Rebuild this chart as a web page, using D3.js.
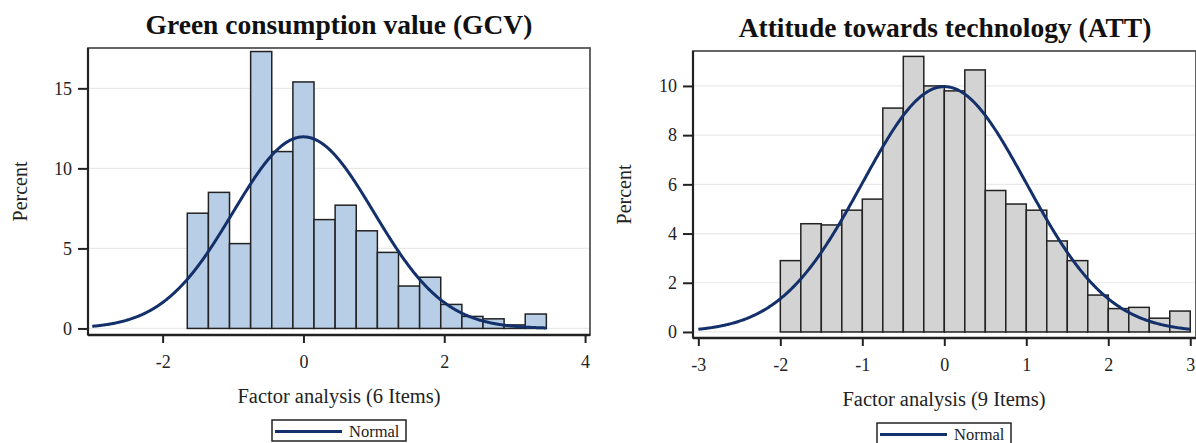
<!DOCTYPE html>
<html>
<head>
<meta charset="utf-8">
<script src="https://cdn.jsdelivr.net/npm/d3@7"></script>
<style>
  body { margin: 0; background: #fff; }
  svg { display: block; }
</style>
</head>
<body>
<div id="chart"></div>
<script>
// GCV histogram (bin midpoints, percent)
const gcvMid = [-1.5, -1.2, -0.9, -0.6, -0.3, 0, 0.3, 0.6, 0.9, 1.2, 1.5, 1.8, 2.1, 2.4, 2.7, 3.0, 3.3];
const gcvPct = [7.2, 8.5, 5.3, 17.3, 11.05, 15.4, 6.8, 7.7, 6.1, 4.75, 2.65, 3.2, 1.5, 0.75, 0.6, 0.22, 0.9];
const gcvBinWidth = 0.3;
const gcvNormal = { mean: 0, sd: 1, from: -3, to: 3.45 };
const gcvYTicks = [0, 5, 10, 15];
const gcvXTicks = [-2, 0, 2, 4];

// ATT histogram
const attMid = [-1.875, -1.625, -1.375, -1.125, -0.875, -0.625, -0.375, -0.125, 0.125, 0.375,
                0.625, 0.875, 1.125, 1.375, 1.625, 1.875, 2.125, 2.375, 2.625, 2.875];
const attPct = [2.9, 4.4, 4.35, 4.95, 5.4, 9.1, 11.2, 10.0, 9.8, 10.65,
                5.75, 5.2, 4.95, 3.7, 2.9, 1.5, 0.95, 1.0, 0.56, 0.85];
const attBinWidth = 0.25;
const attNormal = { mean: 0, sd: 1, from: -3, to: 3 };
const attYTicks = [0, 2, 4, 6, 8, 10];
const attXTicks = [-3, -2, -1, 0, 1, 2, 3];

const W = 1196, H = 443;
const serif = "'Liberation Serif', 'Times New Roman', serif";

const svg = d3.select("#chart").append("svg")
  .attr("width", W).attr("height", H);

// plain hyphen for negatives, like the original
const fmt = d => String(d);

function panel(opt) {
  const g = svg.append("g");
  const x = d3.scaleLinear().domain(opt.xDomain).range([opt.left, opt.right]);
  const y = d3.scaleLinear().domain(opt.yDomain).range([opt.bottom, opt.top]);

  // grid
  g.selectAll("line.grid")
    .data(opt.yTicks)
    .join("line")
    .attr("class", "grid")
    .attr("x1", opt.left).attr("x2", opt.right)
    .attr("y1", d => y(d)).attr("y2", d => y(d))
    .attr("stroke", "#e9e9e9").attr("stroke-width", 1.2);

  // bars
  g.selectAll("rect.bar")
    .data(opt.mid.map((m, i) => ({ m: m, p: opt.pct[i] })))
    .join("rect")
    .attr("class", "bar")
    .attr("x", d => x(d.m - opt.binW / 2))
    .attr("width", d => x(d.m + opt.binW / 2) - x(d.m - opt.binW / 2))
    .attr("y", d => y(d.p))
    .attr("height", d => y(0) - y(d.p))
    .attr("fill", opt.fill)
    .attr("stroke", "#222")
    .attr("stroke-width", 1.5);

  // normal curve, scaled to percent per bin
  const n = opt.normal;
  const pts = d3.range(n.from, n.to + 0.0001, 0.01).map(v => {
    const z = (v - n.mean) / n.sd;
    return [v, 100 * opt.binW * Math.exp(-z * z / 2) / (n.sd * Math.sqrt(2 * Math.PI))];
  });
  g.append("path")
    .datum(pts)
    .attr("d", d3.line().x(d => x(d[0])).y(d => y(d[1])))
    .attr("fill", "none")
    .attr("stroke", "#13306a")
    .attr("stroke-width", 3);

  // frame
  g.append("rect")
    .attr("x", opt.left).attr("y", opt.top)
    .attr("width", opt.right - opt.left).attr("height", opt.bottom - opt.top)
    .attr("fill", "none").attr("stroke", "#555").attr("stroke-width", 1.8);

  // axes
  const ya = g.append("g")
    .attr("transform", `translate(${opt.left},0)`)
    .call(d3.axisLeft(y).tickValues(opt.yTicks).tickSize(10).tickPadding(6).tickFormat(fmt));
  const xa = g.append("g")
    .attr("transform", `translate(0,${opt.bottom})`)
    .call(d3.axisBottom(x).tickValues(opt.xTicks).tickSize(8).tickPadding(12).tickFormat(fmt));
  [ya, xa].forEach(a => {
    a.select(".domain").remove();
    a.selectAll("line").attr("stroke", "#222").attr("stroke-width", 2);
    a.selectAll("text").attr("font-family", serif).attr("font-size", 18).attr("fill", "#222");
  });
  g.append("line")
    .attr("x1", opt.left).attr("x2", opt.left)
    .attr("y1", opt.top).attr("y2", opt.bottom)
    .attr("stroke", "#222").attr("stroke-width", 2.2);
  g.append("line")
    .attr("x1", opt.left).attr("x2", opt.right)
    .attr("y1", opt.bottom).attr("y2", opt.bottom)
    .attr("stroke", "#222").attr("stroke-width", 2.5);

  // title
  g.append("text")
    .attr("x", opt.titleX).attr("y", opt.titleY)
    .attr("text-anchor", "middle")
    .attr("font-family", serif).attr("font-weight", "bold").attr("font-size", 27.5)
    .attr("fill", "#111")
    .text(opt.title);

  // y title
  g.append("text")
    .attr("transform", `translate(${opt.yTitleX},${(opt.top + opt.bottom) / 2}) rotate(-90)`)
    .attr("text-anchor", "middle")
    .attr("font-family", serif).attr("font-size", 20).attr("fill", "#222")
    .text("Percent");

  // x title
  g.append("text")
    .attr("x", opt.xTitleX).attr("y", opt.bottom + 68)
    .attr("text-anchor", "middle")
    .attr("font-family", serif).attr("font-size", 20.5).attr("fill", "#222")
    .text(opt.xTitle);

  // legend
  const lg = g.append("g").attr("transform", `translate(${opt.xTitleX - 67},${opt.bottom + 85})`);
  lg.append("rect").attr("x", 0).attr("y", 0).attr("width", 134).attr("height", 21)
    .attr("fill", "#fff").attr("stroke", "#222").attr("stroke-width", 1.5);
  lg.append("line").attr("x1", 3).attr("x2", 70).attr("y1", 11.5).attr("y2", 11.5)
    .attr("stroke", "#13306a").attr("stroke-width", 3);
  lg.append("text").attr("x", 77).attr("y", 17)
    .attr("font-family", serif).attr("font-size", 16.5).attr("fill", "#222")
    .text("Normal");
}

panel({
  left: 88, right: 590, top: 48, bottom: 335,
  xDomain: [-3.06, 4.07], yDomain: [-0.41, 17.52],
  mid: gcvMid, pct: gcvPct, binW: gcvBinWidth, normal: gcvNormal,
  yTicks: gcvYTicks, xTicks: gcvXTicks,
  fill: "#b8cde6",
  title: "Green consumption value (GCV)", titleX: 339, titleY: 34,
  yTitleX: 27, xTitle: "Factor analysis (6 Items)", xTitleX: 339
});

panel({
  left: 693, right: 1196, top: 51, bottom: 338,
  xDomain: [-3.065, 3.07], yDomain: [-0.245, 11.42],
  mid: attMid, pct: attPct, binW: attBinWidth, normal: attNormal,
  yTicks: attYTicks, xTicks: attXTicks,
  fill: "#d3d3d3",
  title: "Attitude towards technology (ATT)", titleX: 945, titleY: 37,
  yTitleX: 631, xTitle: "Factor analysis (9 Items)", xTitleX: 944
});
</script>
</body>
</html>
